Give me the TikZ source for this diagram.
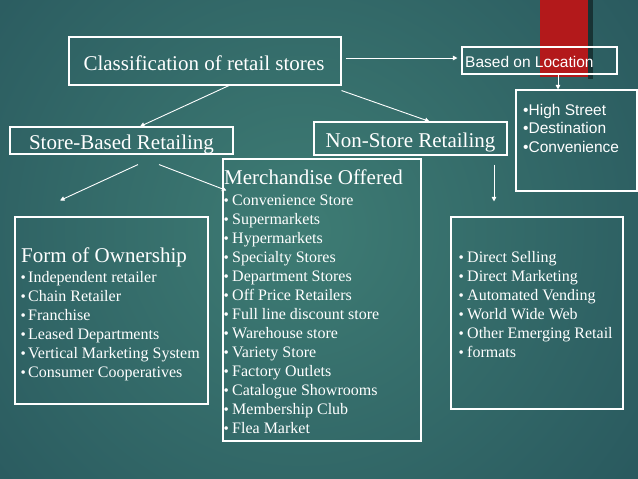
\documentclass[tikz,border=0pt]{standalone}
\usepackage{fontspec}
\setmainfont{Liberation Serif}
\newfontfamily\arialf{Liberation Sans}
\usetikzlibrary{arrows.meta}
\definecolor{bgdark}{HTML}{16384A}
\definecolor{bglight}{HTML}{3E7C74}
\definecolor{redbar}{HTML}{B3191B}
\begin{document}
\begin{tikzpicture}[x=1pt,y=-1pt,
  frame/.style={draw=white,line width=1.1pt,inner sep=0pt,rectangle},
  ttl/.style={text=white,font=\fontsize{21}{25}\selectfont,inner sep=0pt},
  itm/.style={text=white,font=\fontsize{16}{19}\selectfont,inner sep=0pt},
  bul/.style={text=white,font=\fontsize{15}{15}\selectfont,inner sep=0pt},
  sans/.style={text=white,font=\arialf\fontsize{15.5}{18}\selectfont,inner sep=0pt},
  arr/.style={draw=white,line width=0.9pt,-{Triangle[length=4.5pt,width=4.5pt]}}]
\useasboundingbox (0,0) rectangle (638,479);
\clip (0,0) rectangle (638,479);
% background
\fill[bgdark] (0,0) rectangle (638,479);
\shade[inner color=bglight, outer color=bgdark] (300,230) circle (820);
\fill[black,opacity=0.45] (588,0) rectangle (593,79);
\fill[redbar] (540,0) rectangle (588,77);
% boxes
\node[frame,minimum width=272pt,minimum height=48pt] (cls) at (205,61) {};
\node[frame,minimum width=155pt,minimum height=27pt] (loc) at (539.5,60.5) {};
\node[frame,minimum width=121pt,minimum height=101pt] (locl) at (576.5,140.5) {};
\node[frame,minimum width=223pt,minimum height=27pt] (sb) at (121.5,140.5) {};
\node[frame,minimum width=193pt,minimum height=33pt] (ns) at (410.5,138.5) {};
\node[frame,minimum width=198pt,minimum height=282pt] (mer) at (322,300) {};
\node[frame,minimum width=193pt,minimum height=187pt] (foo) at (111.5,310.5) {};
\node[frame,minimum width=172pt,minimum height=192pt] (nsl) at (537,313) {};
% titles
\node[ttl,anchor=base] (clst) at (204,70) {Classification of retail stores};
\node[sans,anchor=base west] (loct) at (465,67) {Based on Location};
\node[ttl,anchor=base] (sbt) at (121.5,149) {Store-Based Retailing};
\node[ttl,anchor=base] (nst) at (410.5,147) {Non-Store Retailing};
\node[ttl,anchor=base west] (mert) at (224,184) {Merchandise Offered};
\node[ttl,anchor=base west] (foot) at (21,262) {Form of Ownership};
% location list
\foreach \t [count=\i from 0] in {High Street,Destination,Convenience}
  \node[sans,anchor=base west] (ll\i) at (523,115+18.5*\i) {•\t};
% merchandise list
\foreach \t [count=\i from 0] in {Convenience Store,Supermarkets,Hypermarkets,Specialty Stores,Department Stores,Off Price Retailers,Full line discount store,Warehouse store,Variety Store,Factory Outlets,Catalogue Showrooms,Membership Club,Flea Market}{
  \node[bul,anchor=base west] (mb\i) at (223.5,205+19*\i) {•};
  \node[itm,anchor=base west] (mi\i) at (232,205+19*\i) {\t};
}
% ownership list
\foreach \t [count=\i from 0] in {Independent retailer,Chain Retailer,Franchise,Leased Departments,Vertical Marketing System,Consumer Cooperatives}{
  \node[bul,anchor=base west] (ob\i) at (20.5,282+19*\i) {•};
  \node[itm,anchor=base west] (oi\i) at (28,282+19*\i) {\t};
}
% non-store list
\foreach \t [count=\i from 0] in {Direct Selling,Direct Marketing,Automated Vending,World Wide Web,Other Emerging Retail,formats}{
  \node[bul,anchor=base west] (nb\i) at (458.5,262+19*\i) {•};
  \node[itm,anchor=base west] (ni\i) at (467,262+19*\i) {\t};
}
% connectors
\draw[arr] ([shift={(4,-3)}]cls.east) -- ([shift={(-4,-2.5)}]loc.west);
\draw[arr] ([xshift=18.5pt]loc.south) -- ([xshift=18.5pt]loc.south |- locl.north);
\draw[arr] ([xshift=24pt]cls.south) -- ([xshift=18.5pt]sb.north);
\draw[arr] ([shift={(0,5)}]cls.south east) -- ([xshift=19pt]ns.north);
\draw[arr] ([shift={(16.5,10)}]sb.south) -- ([shift={(-51.5,-16)}]foo.north);
\draw[arr] ([shift={(37.5,10)}]sb.south) -- ([shift={(4,32)}]mer.north west);
\draw[arr] ([shift={(83.5,9)}]ns.south) -- ([shift={(-43,-15)}]nsl.north);
\end{tikzpicture}
\end{document}
